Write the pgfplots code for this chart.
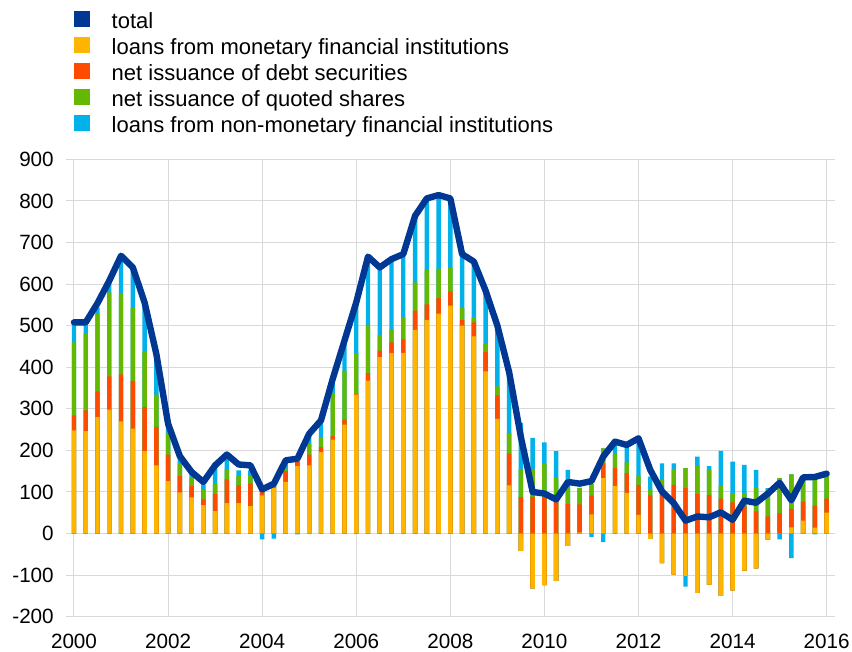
\documentclass[border=0pt]{standalone}
\usepackage{fontspec}
\setmainfont{Liberation Sans}
\usepackage{pgfplots}
\usepackage{pgfplotstable}
\pgfplotsset{compat=1.18}
\definecolor{tot}{HTML}{003894}
\definecolor{mfi}{HTML}{FFB400}
\definecolor{debt}{HTML}{FF4B00}
\definecolor{shr}{HTML}{65B800}
\definecolor{nmfi}{HTML}{00B1EA}
\definecolor{grd}{HTML}{D9D9D9}

\pgfplotstableread{
i Y D S C T
0 248 36 176 48 508
1 246 50 184 28 508
2 280 62 186 16 554
3 298 80 202 24 608
4 270 113 195 78 668
5 252 115 176 93 640
6 198 106 134 118 556
7 164 92 78 98 432
8 126 64 52 18 264
9 99 39 30 12 186
10 87 27 20 10 148
11 68 14 24 12 124
12 54 41 25 40 164
13 73 57 24 26 190
14 73 43 22 14 166
15 66 54 18 14 164
16 92 12 6 -14 106
17 110 4 4 -12 120
18 124 26 6 16 176
19 162 10 4 -2 180
20 164 26 26 16 240
21 196 12 24 36 272
22 226 8 104 30 372
23 262 12 118 72 464
24 334 2 98 118 556
25 368 18 116 158 666
26 424 16 38 158 640
27 434 26 30 166 660
28 434 33 54 147 672
29 490 46 68 156 764
30 514 37 83 166 806
31 529 37 71 175 814
32 548 34 57 165 806
33 500 13 29 130 672
34 474 34 12 136 654
35 390 47 19 132 584
36 276 56 22 146 500
37 116 76 50 142 388
38 -42 88 66 112 232
39 -132 88 66 76 100
40 -124 88 80 51 96
41 -114 76 58 64 82
42 -30 71 40 42 124
43 3 67 40 0 120
44 46 45 28 -8 126
45 133 36 36 -21 185
46 114 44 35 32 221
47 98 47 26 38 213
48 45 72 23 77 229
49 -13 92 14 31 153
50 -71 115 14 40 101
51 -99 117 37 15 73
52 -102 110 47 -26 31
53 -143 95 68 22 41
54 -123 93 61 8 39
55 -150 84 31 84 51
56 -137 75 22 76 33
57 -89 65 32 68 79
58 -84 53 56 44 74
59 -15 41 66 2 96
60 0 49 84 -14 122
61 15 44 83 -59 80
62 31 46 60 0 135
63 14 53 66 -2 136
64 50 34 57 0 144
}\data

\begin{document}
\begin{tikzpicture}
\path[use as bounding box] (-55.5pt,-26.5pt) rectangle (583.5pt,462.5pt);
\begin{axis}[
  at={(0pt,0pt)}, anchor=south west,
  scale only axis, width=564.5pt, height=343pt,
  xmin=0, xmax=64, ymin=-200, ymax=900,
  clip=false,
  axis line style={draw=none},
  xtick={0,8,16,24,32,40,48,56,64},
  xticklabels={2000,2002,2004,2006,2008,2010,2012,2014,2016},
  ytick={-200,-100,0,100,200,300,400,500,600,700,800,900},
  grid=major, major grid style={grd, line width=0.75pt},
  tick align=outside, major tick length=6pt,
  ytick style={grd, line width=0.75pt},
  xtick style={draw=none},
  /pgf/number format/assume math mode=true,
  ticklabel style={font=\fontsize{15.5}{18}\selectfont, text=black},
  yticklabel style={inner sep=0pt, anchor=east, xshift=-9pt},
  xticklabel style={inner sep=0pt, anchor=north, yshift=-6.5pt, text depth=0pt},
  legend cell align=left,
  legend style={at={(0,1.3244)}, anchor=north west, draw=none, fill=none,
    inner sep=0pt, row sep=3.9pt,
    font=\fontsize{16.5}{19}\selectfont,
    nodes={inner sep=0pt, text height=13pt, text depth=2.5pt},
    /tikz/every odd column/.append style={column sep=16.5pt}},
]
\addlegendimage{legend image code/.code={\fill[tot] (0pt,-3.4pt) rectangle (11.2pt,7.6pt);}}
\addlegendentry{total}
\addlegendimage{legend image code/.code={\fill[mfi] (0pt,-3.4pt) rectangle (11.2pt,7.6pt);}}
\addlegendentry{loans from monetary financial institutions}
\addlegendimage{legend image code/.code={\fill[debt] (0pt,-3.4pt) rectangle (11.2pt,7.6pt);}}
\addlegendentry{net issuance of debt securities}
\addlegendimage{legend image code/.code={\fill[shr] (0pt,-3.4pt) rectangle (11.2pt,7.6pt);}}
\addlegendentry{net issuance of quoted shares}
\addlegendimage{legend image code/.code={\fill[nmfi] (0pt,-3.4pt) rectangle (11.2pt,7.6pt);}}
\addlegendentry{loans from non-monetary financial institutions}

% positive parts (drawn from the top of the stack downwards)
\addplot[ybar, bar width=3.3pt, bar shift=0pt, fill=nmfi, draw=none, forget plot]
  table[x=i, y expr={max(\thisrow{Y},0)+max(\thisrow{D},0)+max(\thisrow{S},0)+max(\thisrow{C},0)}] {\data};
\addplot[ybar, bar width=3.3pt, bar shift=0pt, fill=shr, draw=none, forget plot]
  table[x=i, y expr={max(\thisrow{Y},0)+max(\thisrow{D},0)+max(\thisrow{S},0)}] {\data};
\addplot[ybar, bar width=3.3pt, bar shift=0pt, fill=debt, draw=none, forget plot]
  table[x=i, y expr={max(\thisrow{Y},0)+max(\thisrow{D},0)}] {\data};
\addplot[ybar, bar width=3.3pt, bar shift=0pt, fill=mfi, draw=none, forget plot]
  table[x=i, y expr={max(\thisrow{Y},0)}] {\data};
% negative parts
\addplot[ybar, bar width=3.3pt, bar shift=0pt, fill=nmfi, draw=none, forget plot]
  table[x=i, y expr={min(\thisrow{Y},0)+min(\thisrow{D},0)+min(\thisrow{S},0)+min(\thisrow{C},0)}] {\data};
\addplot[ybar, bar width=3.3pt, bar shift=0pt, fill=shr, draw=none, forget plot]
  table[x=i, y expr={min(\thisrow{Y},0)+min(\thisrow{D},0)+min(\thisrow{S},0)}] {\data};
\addplot[ybar, bar width=3.3pt, bar shift=0pt, fill=debt, draw=none, forget plot]
  table[x=i, y expr={min(\thisrow{Y},0)+min(\thisrow{D},0)}] {\data};
\addplot[ybar, bar width=3.3pt, bar shift=0pt, fill=mfi, draw=none, forget plot]
  table[x=i, y expr={min(\thisrow{Y},0)}] {\data};
% total
\addplot[sharp plot, tot, line width=4.8pt, line join=round, line cap=round, mark=none, forget plot]
  table[x=i, y=T] {\data};
\end{axis}
\end{tikzpicture}
\end{document}
